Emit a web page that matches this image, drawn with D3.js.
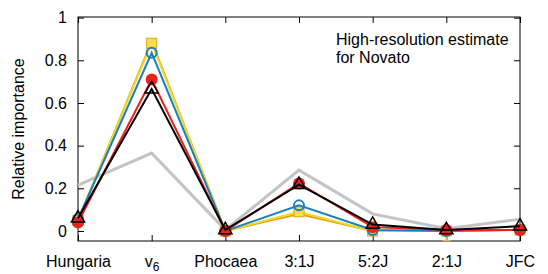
<!DOCTYPE html>
<html>
<head>
<meta charset="utf-8">
<script src="https://cdn.jsdelivr.net/npm/d3@7"></script>
<style>
  body { margin: 0; background: #fff; }
  text { font-family: "Liberation Sans", Arial, sans-serif; }
</style>
</head>
<body>
<div id="canvas"></div>
<script>
// data
const categories = ["Hungaria", "v6", "Phocaea", "3:1J", "5:2J", "2:1J", "JFC"];
const grayValues   = [0.215, 0.365, 0.005, 0.285, 0.08, 0.01, 0.055];
const orangeValues = [0.05, 0.89, 0.0, 0.08, 0.0, 0.0, 0.005];
const yellowValues = [0.05, 0.88, 0.0, 0.09, 0.0, 0.0, 0.005];
const blueValues   = [0.055, 0.835, 0.0, 0.12, 0.005, 0.0, 0.005];
const redValues    = [0.04, 0.71, 0.0, 0.223, 0.018, 0.005, 0.005];
const blackValues  = [0.06, 0.665, 0.005, 0.217, 0.03, 0.005, 0.022];
const yellowLow    = [null, null, null, null, null, -0.045, null];
const yTicks = [0, 0.2, 0.4, 0.6, 0.8, 1];

// dimensions
const width = 548;
const height = 274;
const margins = {top: 17, right: 28, bottom: 33, left: 78};
const dataWidth = width - margins.left - margins.right;
const dataHeight = height - margins.top - margins.bottom;

var svg = d3.select("#canvas").append("svg")
    .attr("width", width)
    .attr("height", height);

var dataArea = svg.append("g")
    .attr("transform", `translate(${margins.left}, ${margins.top})`);

var x = d3.scalePoint().domain(categories).range([0, dataWidth]).padding(0);
var y = d3.scaleLinear().domain([-0.047, 1.003]).range([dataHeight, 0]);

// axes with inward ticks (mirrored on all sides)
function styleAxis(g) {
    g.select(".domain").remove();
    g.selectAll("line").attr("stroke", "#000");
    g.selectAll("text").attr("font-size", 16).attr("fill", "#000");
}
dataArea.append("g")
    .call(d3.axisLeft(y).tickValues(yTicks).tickSize(-6).tickPadding(11)
        .tickFormat(d => d === 0 || d === 1 ? d3.format("d")(d) : d3.format(".1f")(d)))
    .call(styleAxis);
dataArea.append("g")
    .attr("transform", `translate(${dataWidth}, 0)`)
    .call(d3.axisRight(y).tickValues(yTicks).tickSize(-6).tickFormat(""))
    .call(styleAxis);
var xAxisGroup = dataArea.append("g")
    .attr("transform", `translate(0, ${dataHeight})`)
    .call(d3.axisBottom(x).tickSize(-6).tickPadding(15))
    .call(styleAxis);
dataArea.append("g")
    .call(d3.axisTop(x).tickSize(-6).tickFormat(""))
    .call(styleAxis);

// subscript for v6
xAxisGroup.selectAll(".tick text").filter(d => d === "v6")
    .text("v")
    .append("tspan").attr("font-size", 12).attr("dy", 4).text("6");

// frame
dataArea.append("rect")
    .attr("width", dataWidth).attr("height", dataHeight)
    .attr("fill", "none").attr("stroke", "#000").attr("stroke-width", 1);

var line = d3.line()
    .x((d, i) => x(categories[i]))
    .y(d => y(d));

function drawLine(values, color, w) {
    dataArea.append("path")
        .datum(values)
        .attr("fill", "none")
        .attr("stroke", color)
        .attr("stroke-width", w)
        .attr("stroke-linejoin", "miter")
        .attr("d", line);
}

// gray series
drawLine(grayValues, "#c4c4c4", 3);

// orange + yellow series
drawLine(orangeValues, "#e3a21a", 2);
drawLine(yellowValues, "#f0da30", 2);
yellowLow.forEach(function(lo, i) {
    if (lo === null) return;
    var cx = x(categories[i]);
    dataArea.append("line")
        .attr("x1", cx).attr("x2", cx)
        .attr("y1", y(yellowValues[i])).attr("y2", y(lo))
        .attr("stroke", "#d9b860").attr("stroke-width", 1.5);
    dataArea.append("line")
        .attr("x1", cx - 4).attr("x2", cx + 4)
        .attr("y1", y(lo)).attr("y2", y(lo))
        .attr("stroke", "#d9b860").attr("stroke-width", 1.5);
});
dataArea.selectAll(".sq")
    .data(yellowValues)
    .enter().append("rect")
    .attr("x", (d, i) => x(categories[i]) - 5)
    .attr("y", d => y(d) - 5)
    .attr("width", 10).attr("height", 10)
    .attr("fill", "#f3e04c")
    .attr("stroke", "#e3a21a").attr("stroke-width", 1);

// blue series
drawLine(blueValues, "#1a7fc1", 2);
dataArea.selectAll(".bc")
    .data(blueValues)
    .enter().append("circle")
    .attr("cx", (d, i) => x(categories[i]))
    .attr("cy", d => y(d))
    .attr("r", 5)
    .attr("fill", "none")
    .attr("stroke", "#1a7fc1").attr("stroke-width", 2);

// red series
drawLine(redValues, "#e8221c", 2);
dataArea.selectAll(".rc")
    .data(redValues)
    .enter().append("circle")
    .attr("cx", (d, i) => x(categories[i]))
    .attr("cy", d => y(d))
    .attr("r", 6)
    .attr("fill", "#e8221c");

// black series
drawLine(blackValues, "#000", 2);
var tri = d3.symbol().type(d3.symbolTriangle).size(75);
dataArea.selectAll(".bt")
    .data(blackValues)
    .enter().append("path")
    .attr("d", tri)
    .attr("transform", (d, i) => `translate(${x(categories[i])}, ${y(d)})`)
    .attr("fill", "none")
    .attr("stroke", "#000").attr("stroke-width", 1.5);

// Y axis label
svg.append("text")
    .attr("text-anchor", "middle")
    .attr("font-size", 16)
    .attr("transform", `translate(24, ${margins.top + dataHeight / 2}) rotate(-90)`)
    .text("Relative importance");

// annotation
svg.append("text")
    .attr("x", 336).attr("y", 45)
    .attr("font-size", 16)
    .text("High-resolution estimate");
svg.append("text")
    .attr("x", 336).attr("y", 63)
    .attr("font-size", 16)
    .text("for Novato");
</script>
</body>
</html>
